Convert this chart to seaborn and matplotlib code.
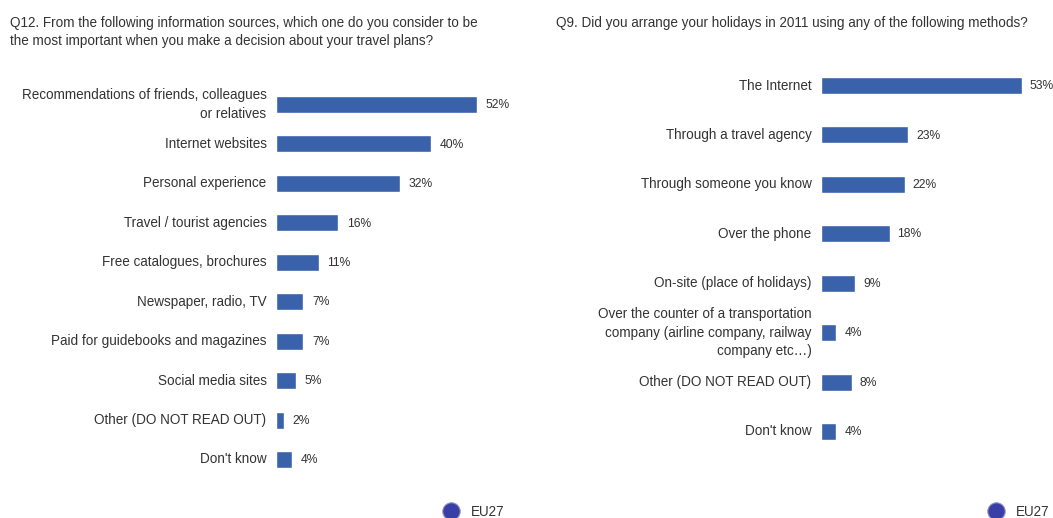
import matplotlib
matplotlib.use("Agg")
import matplotlib.pyplot as plt
import seaborn as sns
import pandas as pd

sns.set_theme(style="white")
plt.rcParams['font.family'] = ['Liberation Sans', 'DejaVu Sans']

TITLE_L = "Q12. From the following information sources, which one do you consider to be\nthe most important when you make a decision about your travel plans?"
TITLE_R = "Q9. Did you arrange your holidays in 2011 using any of the following methods?"
CATS_L = ["Recommendations of friends, colleagues\nor relatives", "Internet websites", "Personal experience",
          "Travel / tourist agencies", "Free catalogues, brochures", "Newspaper, radio, TV",
          "Paid for guidebooks and magazines", "Social media sites", "Other (DO NOT READ OUT)", "Don't know"]
VALS_L = [52, 40, 32, 16, 11, 7, 7, 5, 2, 4]
CATS_R = ["The Internet", "Through a travel agency", "Through someone you know", "Over the phone",
          "On-site (place of holidays)", "Over the counter of a transportation\ncompany (airline company, railway\ncompany etc…)",
          "Other (DO NOT READ OUT)", "Don't know"]
VALS_R = [53, 23, 22, 18, 9, 4, 8, 4]
LEGEND = "EU27"
BLUE = "#3A62AB"
W, H = 1053, 518
fig = plt.figure(figsize=(W/100, H/100), dpi=100, facecolor="white")

def panel(x0, x1, y0, y1, cats, vals, bw, scale, off):
    ax = fig.add_axes([x0/W, 1-y1/H, (x1-x0)/W, (y1-y0)/H])
    df = pd.DataFrame({"c": cats, "v": vals})
    sns.barplot(df, x="v", y="c", ax=ax, color=BLUE, saturation=1, width=bw, orient="h")
    ax.set_xlim(0, (x1-x0)/scale)
    ax.set_ylim(len(cats)-.5, -.5)
    ax.set_xlabel(""); ax.set_ylabel("")
    ax.set_xticks([])
    ax.tick_params(axis="y", length=0, pad=7, labelsize=9.75, labelcolor="#333333")
    for t in ax.get_yticklabels():
        t.set_multialignment("right")
        t.set_linespacing(1.42)
        t.set_verticalalignment("center")
    sns.despine(ax=ax, left=True, bottom=True, top=True, right=True)
    for i, v in enumerate(vals):
        ax.annotate(f"{v}%", (v, i), xytext=(off, -0.5), textcoords="offset points", va="center",
                    fontsize=8.7, color="#333333", annotation_clip=False)
    return ax

panel(276.3, 525, 84.8, 479.2, CATS_L, VALS_L, 0.43, 3.86, 6.2)
panel(821.3, 1053, 60.8, 456.2, CATS_R, VALS_R, 0.345, 3.79, 5.6)
fig.text(10/W, 1-32/H, TITLE_L, fontsize=9.75, color="#333333", va="center", linespacing=1.42)
fig.text(556/W, 1-23/H, TITLE_R, fontsize=9.75, color="#333333", va="center")

for xm, xt in ((451, 471), (996, 1016)):
    fig.text(xt/W, 1-512/H, LEGEND, fontsize=9.75, color="#333333", va="center")
    fig.add_artist(plt.Line2D([xm/W], [1-511/H], marker="o", ms=12.5, mfc="#3A3FA8", mec="#8F90B8", mew=.8, transform=fig.transFigure))

fig.savefig("out.png", dpi=100)
